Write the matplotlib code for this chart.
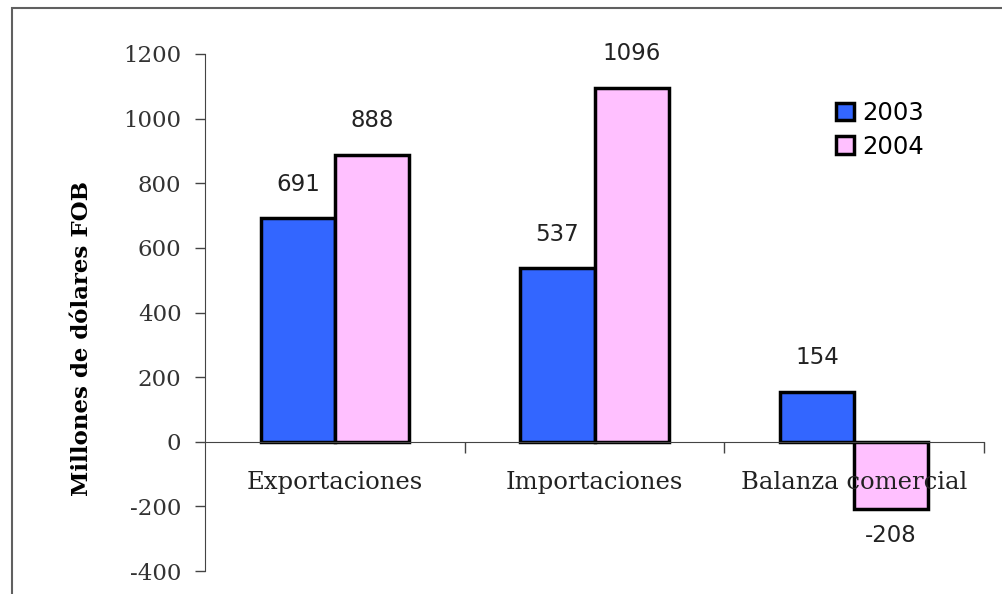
import numpy as np
import matplotlib.pyplot as plt
from matplotlib.patches import Rectangle

# data
categorias = ["Exportaciones", "Importaciones", "Balanza comercial"]
v2003 = [691, 537, 154]
v2004 = [888, 1096, -208]
anios = ["2003", "2004"]
yticks = [-400, -200, 0, 200, 400, 600, 800, 1000, 1200]

fig = plt.figure(figsize=(10.02, 5.94), dpi=100)
ax = fig.add_axes([205/1002, 1-571/594, (984-205)/1002, (571-54)/594])

# outer border of the original chart area
fig.patches.append(Rectangle((12/1002, -0.05), 1.1, 1.05-8/594, transform=fig.transFigure,
                             fill=False, edgecolor="#606060", linewidth=1.5))

x = np.arange(len(categorias))
w = 0.285
ax.bar(x - w/2, v2003, w, color="#3366FF", edgecolor="black", linewidth=2.5, label=anios[0])
ax.bar(x + w/2, v2004, w, color="#FFC0FF", edgecolor="black", linewidth=2.5, label=anios[1])

for i in range(len(x)):
    for xx, v in [(x[i] - w/2, v2003[i]), (x[i] + w/2, v2004[i])]:
        if v >= 0:
            ax.text(xx, v + 70, str(v), ha="center", va="bottom", fontsize=16.5, color="#222222")
        else:
            ax.text(xx, v - 45, str(v), ha="center", va="top", fontsize=16.5, color="#222222")

ax.set_xlim(-0.5, 2.5)
ax.set_ylim(-400, 1200)
ax.set_yticks(yticks)
ax.set_yticklabels([str(t) for t in yticks], family="DejaVu Serif", fontsize=16.5, color="#333333")
ax.tick_params(axis="y", length=7, width=1, color="#444444", pad=10)

ax.spines["top"].set_visible(False)
ax.spines["right"].set_visible(False)
ax.spines["left"].set_color("#444444")
ax.spines["bottom"].set_position(("data", 0))
ax.spines["bottom"].set_color("#444444")

ax.set_xticks(x)
ax.set_xticklabels(categorias, family="DejaVu Serif", fontsize=17.5, color="#222222")
ax.tick_params(axis="x", which="major", length=0, pad=21)
ax.set_xticks([0.5, 1.5, 2.5], minor=True)
ax.tick_params(axis="x", which="minor", length=8, width=1, color="#444444", direction="out")

ax.set_ylabel("Millones de dólares FOB", family="DejaVu Serif", fontweight="bold", fontsize=16.5)
ax.yaxis.set_label_coords((93-205)/779, (571-339)/517)

ax.legend(loc="upper left", bbox_to_anchor=((836-205)/779, (571-101)/517), frameon=False,
          handlelength=0.75, handleheight=0.75, handletextpad=0.35, labelspacing=0.4,
          borderaxespad=0, borderpad=0, prop={"family": "DejaVu Sans", "size": 17.5})

fig.savefig("out.png", dpi=100)
